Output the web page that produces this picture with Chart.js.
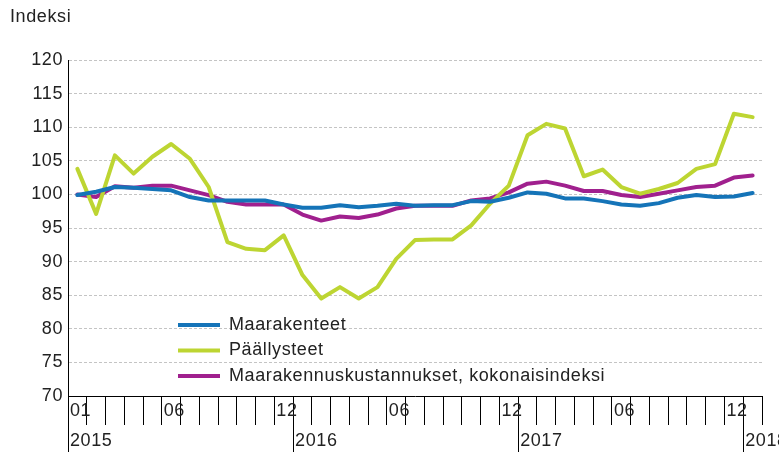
<!DOCTYPE html>
<html>
<head>
<meta charset="utf-8">
<title>Indeksi</title>
<script src="https://cdn.jsdelivr.net/npm/chart.js@4/dist/chart.umd.min.js"></script>
<style>
    body { margin: 0; background: #fff; }
    #wrap { width: 779px; height: 460px; }
</style>
</head>
<body>
<div id="wrap"><canvas id="indexChart" width="779" height="460"></canvas></div>
<script>
// kuukaudet 01/2015 - 01/2018
const categories = [
    '2015-01','2015-02','2015-03','2015-04','2015-05','2015-06','2015-07','2015-08','2015-09','2015-10','2015-11','2015-12',
    '2016-01','2016-02','2016-03','2016-04','2016-05','2016-06','2016-07','2016-08','2016-09','2016-10','2016-11','2016-12',
    '2017-01','2017-02','2017-03','2017-04','2017-05','2017-06','2017-07','2017-08','2017-09','2017-10','2017-11','2017-12',
    '2018-01'
]
const monthTicks = [
    '01','','','','','06','','','','','','12',
    '','','','','','06','','','','','','12',
    '','','','','','06','','','','','','12',
    ''
]
const yearTicks = [
    '2015','','','','','','','','','','','',
    '2016','','','','','','','','','','','',
    '2017','','','','','','','','','','','',
    '2018'
]
const yTicks = [70, 75, 80, 85, 90, 95, 100, 105, 110, 115, 120]

const maarakenteet = [99.9, 100.4, 101.1, 101.0, 100.8, 100.6, 99.6, 99.1, 99.1, 99.1, 99.1, 98.5,
    98.0, 98.0, 98.4, 98.1, 98.3, 98.6, 98.3, 98.4, 98.4, 99.0, 98.9, 99.5,
    100.3, 100.1, 99.4, 99.4, 99.0, 98.5, 98.3, 98.7, 99.5, 99.9, 99.6, 99.7,
    100.2]
const paallysteet = [103.8, 97.1, 105.8, 103.1, 105.6, 107.5, 105.3, 101.1, 92.9, 91.9, 91.7, 93.9,
    88.0, 84.5, 86.2, 84.5, 86.2, 90.4, 93.2, 93.3, 93.3, 95.4, 98.6, 101.3,
    108.8, 110.5, 109.8, 102.7, 103.7, 101.1, 100.1, 100.8, 101.7, 103.8, 104.5, 112.0,
    111.5]
const kokonaisindeksi = [100.0, 99.6, 101.2, 101.0, 101.3, 101.3, 100.6, 99.9, 98.9, 98.5, 98.5, 98.5,
    97.0, 96.1, 96.7, 96.5, 97.0, 97.9, 98.3, 98.3, 98.3, 99.1, 99.4, 100.3,
    101.6, 101.9, 101.3, 100.5, 100.5, 99.9, 99.6, 100.1, 100.6, 101.1, 101.3, 102.5,
    102.8]

const seriesNames = ['Maarakenteet', 'Päällysteet', 'Maarakennuskustannukset, kokonaisindeksi']
const seriesColors = ['#1574b8', '#bdd532', '#a0208e']

const textColor = '#222'
Chart.defaults.font.family = 'Arial, "Liberation Sans", sans-serif'
Chart.defaults.font.size = 18
Chart.defaults.color = textColor

const makeLine = (label, data, color) => ({
    label: label,
    data: data,
    borderColor: color,
    backgroundColor: color,
    borderWidth: 4,
    pointRadius: 0,
    tension: 0,
    borderJoinStyle: 'round',
    borderCapStyle: 'round',
    xAxisID: 'x'
})

// legend sits inside the plot, lower left
const legendSpot = {
    id: 'legendSpot',
    afterLayout(chart) {
        const lg = chart.legend
        if (!lg) return
        const area = chart.chartArea
        lg.left = area.left + 102.5
        lg.top = area.top + 248.5
        lg.right = area.right
        lg.bottom = area.bottom
        lg.width = lg.right - lg.left
        lg.height = lg.bottom - lg.top
    },
    // the original text is a touch wider
    beforeDraw(chart) {
        chart.ctx.letterSpacing = '0.6px'
    }
}

const ctx = document.getElementById('indexChart').getContext('2d')
const chart = new Chart(ctx, {
    type: 'line',
    data: {
        labels: categories,
        datasets: [
            makeLine(seriesNames[0], maarakenteet, seriesColors[0]),
            makeLine(seriesNames[1], paallysteet, seriesColors[1]),
            makeLine(seriesNames[2], kokonaisindeksi, seriesColors[2])
        ]
    },
    options: {
        responsive: false,
        animation: false,
        devicePixelRatio: 1,
        layout: { padding: { left: 10, right: 17, top: 0, bottom: 8 } },
        plugins: {
            tooltip: { enabled: false },
            title: {
                display: true,
                text: 'Indeksi',
                align: 'start',
                color: textColor,
                font: { size: 18, weight: 'normal' },
                padding: { top: 6, bottom: 32.4 }
            },
            legend: {
                display: true,
                position: 'chartArea',
                align: 'start',
                labels: {
                    color: textColor,
                    font: { size: 18 },
                    boxWidth: 42,
                    boxHeight: 4,
                    padding: 7.5,
                    generateLabels: (c) => Chart.defaults.plugins.legend.labels.generateLabels(c)
                        .map(item => ({ ...item, lineWidth: 0 }))
                }
            }
        },
        scales: {
            y: {
                min: yTicks[0],
                max: yTicks[yTicks.length - 1],
                afterFit: (s) => { s.width = 58 },
                afterBuildTicks: (s) => { s.ticks = yTicks.map(v => ({ value: v })) },
                ticks: { padding: 5, color: textColor },
                grid: {
                    drawTicks: false,
                    color: (c) => c.tick && c.tick.value === yTicks[0] ? 'rgba(0,0,0,0)' : '#c4c4c4',
                    lineWidth: 1
                },
                border: { display: true, color: '#000', width: 1, dash: [3, 2] }
            },
            x: {
                type: 'category',
                offset: true,
                weight: 0,
                afterFit: (s) => { s.height = 28 },
                ticks: {
                    autoSkip: false,
                    maxRotation: 0,
                    minRotation: 0,
                    align: 'start',
                    labelOffset: -7.4,
                    padding: -24.8,
                    color: textColor,
                    callback: (v, i) => monthTicks[i]
                },
                grid: {
                    offset: true,
                    drawOnChartArea: false,
                    drawTicks: true,
                    tickLength: 29,
                    color: '#000',
                    lineWidth: 1
                },
                border: { display: true, color: '#000', width: 1 }
            },
            x2: {
                type: 'category',
                position: 'bottom',
                offset: true,
                weight: 1,
                afterFit: (s) => { s.height = 28 },
                ticks: {
                    autoSkip: false,
                    maxRotation: 0,
                    minRotation: 0,
                    align: 'start',
                    labelOffset: -7.4,
                    padding: -21.8,
                    color: textColor,
                    callback: (v, i) => yearTicks[i]
                },
                grid: {
                    offset: true,
                    drawOnChartArea: false,
                    drawTicks: true,
                    tickLength: 28,
                    color: (c) => c.index % 12 === 0 ? '#000' : 'rgba(0,0,0,0)',
                    lineWidth: 1
                },
                border: { display: false }
            }
        }
    },
    plugins: [legendSpot]
})
</script>
</body>
</html>
